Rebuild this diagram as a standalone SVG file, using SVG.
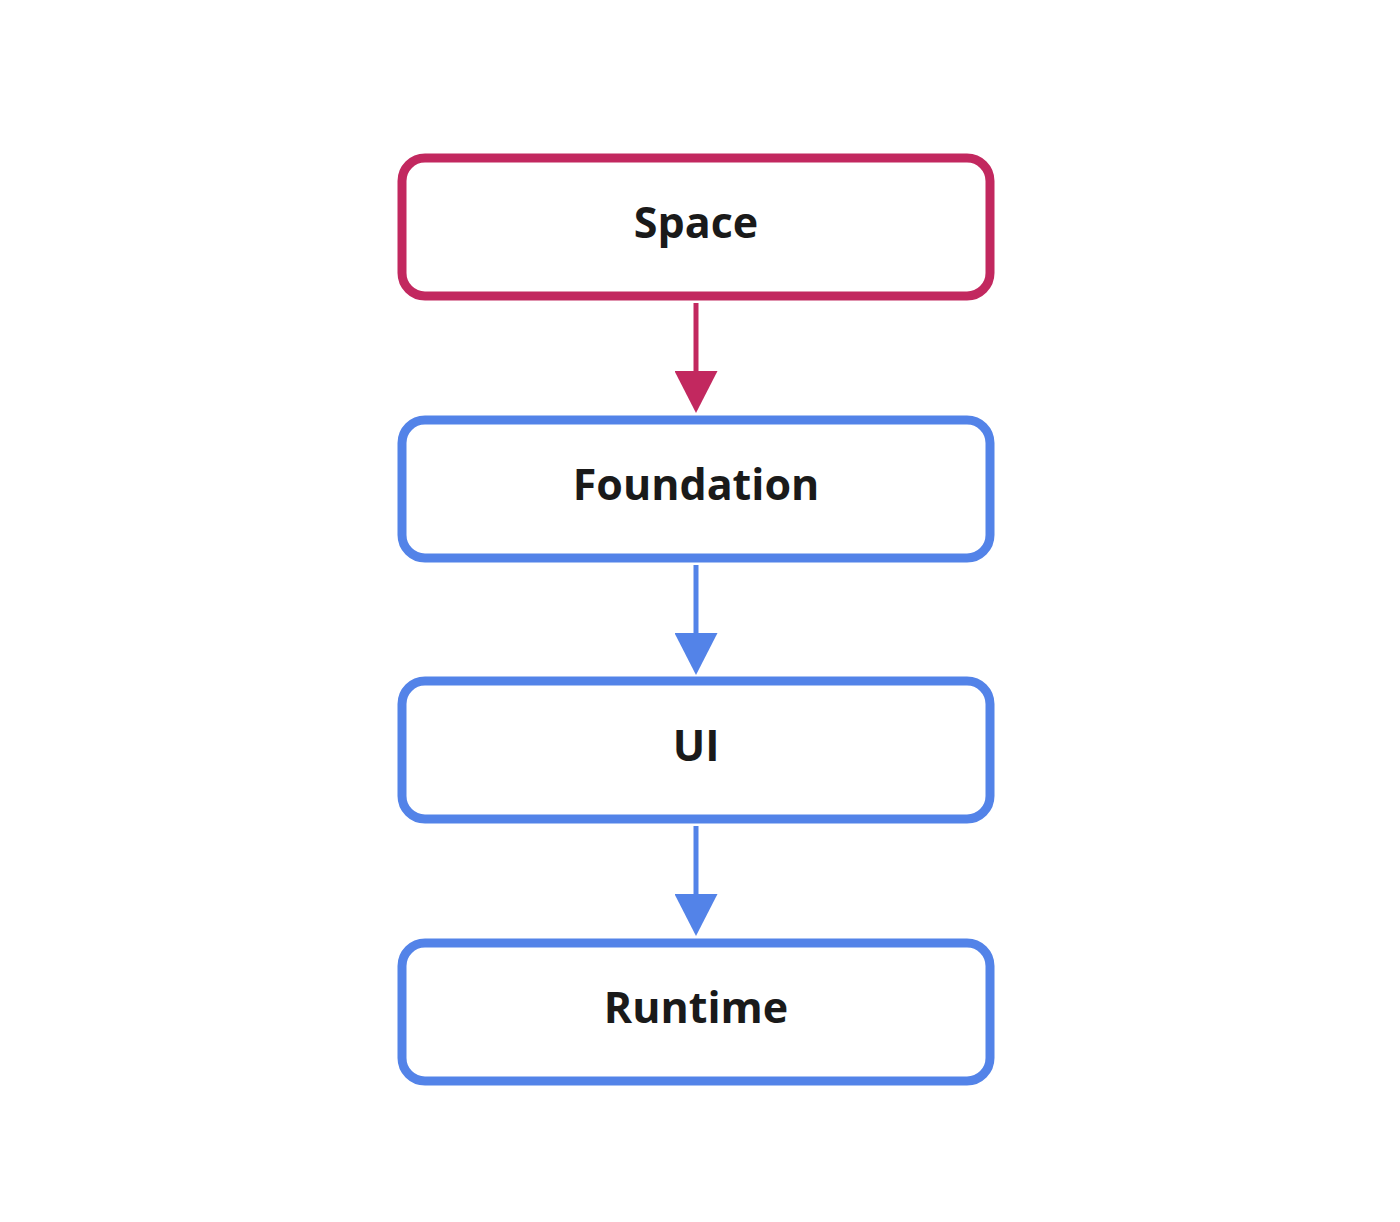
<svg xmlns="http://www.w3.org/2000/svg" width="1400" height="1222" viewBox="0 0 1400 1222">
<style>
.box{fill:#fff;stroke-width:9}
.pink{stroke:#C2285F}
.blue{stroke:#5383E8}
.lbl{font-family:"Open Sans","Noto Sans",sans-serif;font-weight:700;font-size:43px;fill:#1a1a1a;text-anchor:middle}
.ln{stroke-width:5;fill:none}
</style>
<defs>
<marker id="ap" markerWidth="43" markerHeight="43" refX="1" refY="21.5" orient="auto" markerUnits="userSpaceOnUse" viewBox="0 0 43 43"><path d="M0,0 L42,21.5 L0,43 Z" fill="#C2285F"/></marker>
<marker id="ab" markerWidth="43" markerHeight="43" refX="1" refY="21.5" orient="auto" markerUnits="userSpaceOnUse" viewBox="0 0 43 43"><path d="M0,0 L42,21.5 L0,43 Z" fill="#5383E8"/></marker>
</defs>
<rect width="1400" height="1222" fill="#fff"/>
<g id="connectors">
<line class="ln" x1="696" y1="303" x2="696" y2="372" stroke="#C2285F" marker-end="url(#ap)"/>
<line class="ln" x1="696" y1="565" x2="696" y2="634" stroke="#5383E8" marker-end="url(#ab)"/>
<line class="ln" x1="696" y1="826" x2="696" y2="895" stroke="#5383E8" marker-end="url(#ab)"/>
</g>
<g id="space"><rect class="box pink" x="402" y="158" width="588" height="138" rx="23"/><text class="lbl" x="696" y="238">Space</text></g>
<g id="foundation"><rect class="box blue" x="402" y="420" width="588" height="138" rx="23"/><text class="lbl" x="696" y="500">Foundation</text></g>
<g id="ui"><rect class="box blue" x="402" y="681" width="588" height="138" rx="23"/><text class="lbl" x="696" y="761">UI</text></g>
<g id="runtime"><rect class="box blue" x="402" y="943" width="588" height="138" rx="23"/><text class="lbl" x="696" y="1023">Runtime</text></g>
</svg>
